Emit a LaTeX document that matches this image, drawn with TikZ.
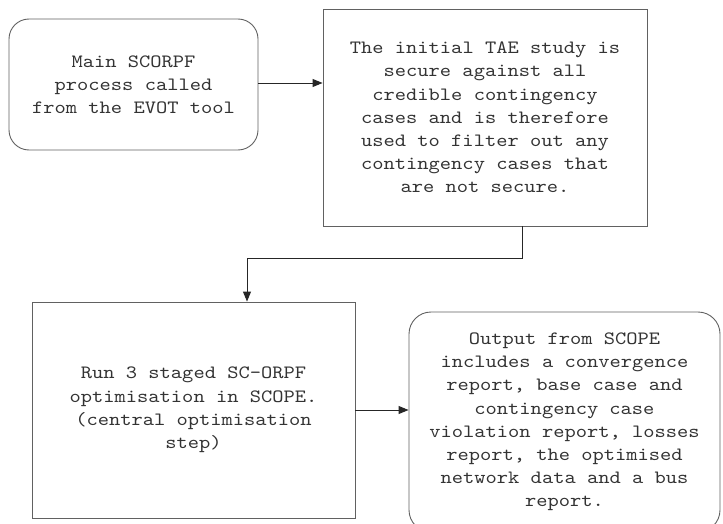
\documentclass[tikz,border=0pt]{standalone}
\usepackage{fontspec}
\newfontfamily\courfont{lmmono10-regular.otf}[FakeStretch=1.14]
\usetikzlibrary{arrows.meta}
\begin{document}
\begin{tikzpicture}[x=1pt,y=-1pt,
  boxbase/.style={draw=black!62, line width=0.9pt, inner sep=0pt, align=center,
    text=black!80, font=\courfont\fontsize{18.8}{23.2}\selectfont},
  roundbox/.style={boxbase, rounded corners=20pt},
  sqbox/.style={boxbase},
  conn/.style={draw=black!85, line width=0.9pt, -{Triangle[length=10pt,width=8pt]}}
]
\useasboundingbox (0,0) rectangle (723,524);
\node[roundbox, minimum width=249pt, minimum height=131pt] (A) at (133.5,84.5)
  {Main SCORPF\\process called\\from the EVOT tool};
\node[sqbox, minimum width=324pt, minimum height=217pt] (B) at (485,117.5)
  {The initial TAE study is\\secure against all\\credible contingency\\cases and is therefore\\used to filter out any\\contingency cases that\\are not secure.};
\node[sqbox, minimum width=323pt, minimum height=216pt] (C) at (193.5,410)
  {Run 3 staged SC-ORPF\\optimisation in SCOPE.\\(central optimisation\\step)};
\node[roundbox, rounded corners=22pt, minimum width=311pt, minimum height=220pt] (D) at (564.5,422)
  {Output from SCOPE\\includes a convergence\\report, base case and\\contingency case\\violation report, losses\\report, the optimised\\network data and a bus\\report.};
\draw[conn] ([yshift=1.5pt]A.east) -- ([yshift=1.5pt]A.east -| B.west);
\draw[conn] ([xshift=37pt]B.south) -- ++(0,32) -| ([xshift=53.5pt]C.north);
\draw[conn] (C.east) -- (C.east -| D.west);
\end{tikzpicture}
\end{document}
